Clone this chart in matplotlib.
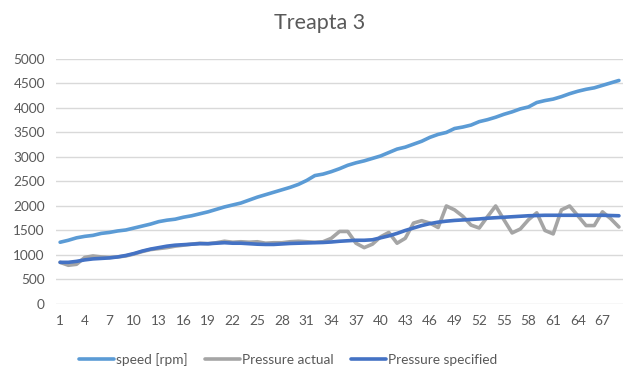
import matplotlib
matplotlib.use("Agg")
import matplotlib.pyplot as plt

plt.rcParams["font.family"] = ["Lato", "DejaVu Sans"]

# measurement index 1..69
samples = list(range(1, 70))

speed = [1260, 1300, 1350, 1380, 1400, 1440, 1460, 1490, 1510, 1550, 1590, 1630, 1680, 1710,
         1730, 1770, 1800, 1840, 1880, 1930, 1980, 2020, 2060, 2120, 2180, 2230, 2280, 2330,
         2380, 2440, 2520, 2620, 2650, 2700, 2760, 2830, 2880, 2920, 2970, 3020, 3090, 3160,
         3200, 3260, 3320, 3400, 3460, 3500, 3580, 3610, 3650, 3720, 3760, 3810, 3870, 3920,
         3980, 4020, 4110, 4150, 4180, 4230, 4290, 4340, 4380, 4410, 4460, 4510, 4560]

pressure_actual = [850, 790, 810, 950, 980, 960, 950, 960, 980, 1020, 1070, 1110, 1130, 1150,
                   1180, 1200, 1220, 1240, 1230, 1250, 1280, 1260, 1270, 1260, 1270, 1240, 1250,
                   1250, 1270, 1280, 1270, 1260, 1270, 1340, 1480, 1480, 1240, 1150, 1220, 1370,
                   1460, 1240, 1340, 1650, 1700, 1650, 1560, 2000, 1920, 1790, 1610, 1550, 1780,
                   2000, 1720, 1450, 1530, 1720, 1860, 1500, 1430, 1920, 2000, 1800, 1600, 1600,
                   1880, 1740, 1570]

pressure_specified = [850, 850, 870, 900, 920, 930, 940, 960, 990, 1030, 1080, 1120, 1150, 1180,
                      1200, 1210, 1220, 1230, 1230, 1240, 1250, 1240, 1240, 1230, 1220, 1215, 1215,
                      1225, 1235, 1240, 1245, 1250, 1255, 1265, 1280, 1290, 1300, 1300, 1310, 1350,
                      1390, 1440, 1500, 1550, 1600, 1640, 1670, 1690, 1705, 1715, 1725, 1735, 1750,
                      1760, 1770, 1780, 1790, 1800, 1805, 1810, 1810, 1810, 1810, 1810, 1810, 1810,
                      1810, 1805, 1800]

fig = plt.figure(figsize=(6.4, 3.8), dpi=100)
ax = fig.add_axes([0.0875, 0.2, 0.886, 0.645])

ax.plot(samples, speed, color="#5B9BD5", lw=2.6, label="speed [rpm]", solid_capstyle="round")
ax.plot(samples, pressure_actual, color="#A5A5A5", lw=2.6, label="Pressure actual", solid_capstyle="round")
ax.plot(samples, pressure_specified, color="#4472C4", lw=2.6, label="Pressure specified", solid_capstyle="round")

ax.set_xlim(0.5, 69.5)
ax.set_ylim(0, 5000)
ax.set_xticks(samples[::3])
ax.set_yticks(range(0, 5001, 500))
ax.tick_params(length=0, labelsize=9.8, colors="#595959", pad=8)
ax.grid(axis="y", color="#D9D9D9", lw=1)
ax.set_axisbelow(True)
for s in ax.spines.values():
    s.set_visible(False)

fig.suptitle("Treapta 3", y=0.965, fontsize=15.5, color="#595959")
fig.legend(loc="center", bbox_to_anchor=(0.45, 0.055), ncol=3, frameon=False,
           fontsize=9.8, labelcolor="#595959", handlelength=2.6, handletextpad=0.1,
           columnspacing=1.3)

fig.savefig("out.png", dpi=100)
